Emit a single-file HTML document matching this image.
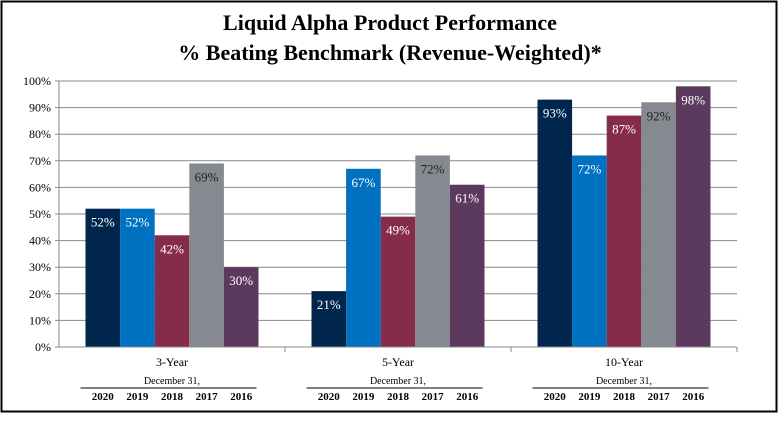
<!DOCTYPE html>
<html><head><meta charset="utf-8"><style>
body{margin:0;background:#fff}
svg text{font-family:"Liberation Serif",serif}
</style></head><body>
<svg width="780" height="416" viewBox="0 0 780 416" xmlns="http://www.w3.org/2000/svg">
<rect x="1.5" y="1.5" width="775" height="410" fill="#fff" stroke="#000" stroke-width="2"/>
<text x="390" y="30" text-anchor="middle" font-size="22" font-weight="bold">Liquid Alpha Product Performance</text>
<text x="390" y="60" text-anchor="middle" font-size="22" font-weight="bold">% Beating Benchmark (Revenue-Weighted)*</text>
<g id="grid"></g><g id="bars"></g><g id="axes"></g>
</svg>
<script>
const categories=["3-Year","5-Year","10-Year"];
const years=["2020","2019","2018","2017","2016"];
const s2020=[52,21,93];
const s2019=[52,67,72];
const s2018=[42,49,87];
const s2017=[69,72,92];
const s2016=[30,61,98];
const yTicks=[0,10,20,30,40,50,60,70,80,90,100];
const series=[s2020,s2019,s2018,s2017,s2016];
const colors=["#00264d","#0070c0","#852c4a","#868a90","#5c3a5e"];
const textColors=["#fff","#fff","#fff","#222","#fff"];
const NS="http://www.w3.org/2000/svg";
const x0=59,x1=737,yTop=81,yBot=347;
const y=v=>yBot-(yBot-yTop)*v/100;
const gw=(x1-x0)/categories.length,bw=34.6,pad=(gw-bw*5)/2;
function mk(tag,attrs,parent,txt){const e=document.createElementNS(NS,tag);for(const k in attrs)e.setAttribute(k,attrs[k]);if(txt!==undefined)e.textContent=txt;parent.appendChild(e);return e;}
const grid=document.getElementById('grid'),bars=document.getElementById('bars'),axes=document.getElementById('axes');
yTicks.forEach(t=>{
 const l=mk('line',{x1:x0,x2:x1,y1:y(t),y2:y(t),stroke:'#888','stroke-width':1},grid);
 
 
 const tk=mk('line',{x1:x0-4,x2:x0,y1:y(t),y2:y(t),stroke:'#888'},axes);
 
 
 const tx=mk('text',{x:x0-8,y:y(t)+4,'text-anchor':'end','font-size':12},axes,t+'%');
 
 
});
const ax=mk('line',{x1:x0,x2:x0,y1:yTop,y2:yBot,stroke:'#888'},axes);


categories.forEach((c,ci)=>{
 const gx=x0+gw*ci;
 series.forEach((s,si)=>{
  const bx=gx+pad+bw*si,v=s[ci];
  const r=mk('rect',{x:bx,y:y(v),width:bw,height:yBot-y(v),fill:colors[si]},bars);
  
  
  const t=mk('text',{x:bx+bw/2,y:y(v)+18,'text-anchor':'middle','font-size':13,fill:textColors[si]},bars,v+'%');
  
  
 });
 const tk=mk('line',{x1:gx+gw,x2:gx+gw,y1:yBot,y2:yBot+5,stroke:'#888'},axes);
 
 
 const cl=mk('text',{x:gx+gw/2,y:366,'text-anchor':'middle','font-size':12},axes,c);
 
 
 const dl=mk('text',{x:gx+gw/2,y:384,'text-anchor':'middle','font-size':10},axes,'December 31,');
 
 
 const ul=mk('line',{x1:gx+pad-5,x2:gx+pad+bw*5-2,y1:388,y2:388,stroke:'#000'},axes);
 
 
 years.forEach((yr,si)=>{
  const t=mk('text',{x:gx+pad+bw*si+bw/2,y:400,'text-anchor':'middle','font-size':11,'font-weight':'bold'},axes,yr);
  
  
 });
});
const xa=mk('line',{x1:x0,x2:x1,y1:yBot,y2:yBot,stroke:'#888'},axes);


</script>
</body></html>
